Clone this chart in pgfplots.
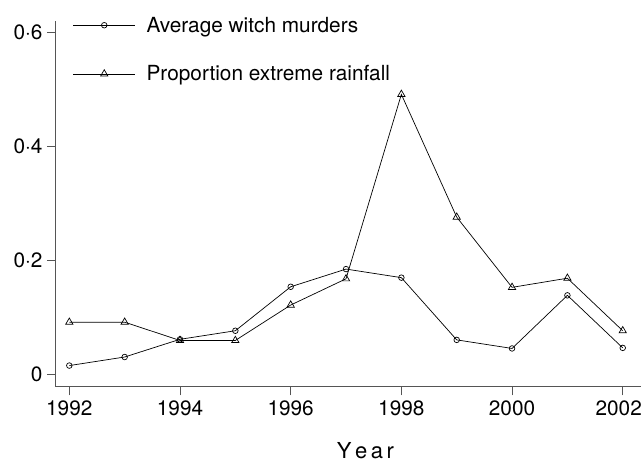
\documentclass[border=0pt]{standalone}
\usepackage{fontspec}
\setmainfont{TeX Gyre Heros}
\usepackage{pgfplots}
\pgfplotsset{compat=1.18}

\definecolor{axisgray}{HTML}{555555}

\begin{document}
\begin{tikzpicture}[font=\fontsize{20.8}{24}\selectfont]
\begin{axis}[
    name=main,
    scale only axis,
    width=585.3pt,
    height=366pt,
    xmin=1991.754, xmax=2002.33,
    ymin=-0.021, ymax=0.620,
    axis x line*=bottom,
    axis y line*=left,
    axis line style={axisgray, line width=0.8pt},
    tick style={axisgray, line width=0.8pt},
    tick align=outside,
    major tick length=8.7pt,
    xtick={1992,1994,1996,1998,2000},
    extra x ticks={2002},
    extra x tick style={xticklabel style={xshift=-4pt}},
    ytick={0,0.2,0.4,0.6},
    yticklabels={0,0·2,0·4,0·6},
    /pgf/number format/1000 sep={},
    /pgf/number format/assume math mode=true,
    xticklabel style={yshift=-2pt},
    yticklabel style={xshift=-1pt},
    xlabel={Y\kern3.5pt e\kern3.5pt a\kern3.5pt r},
    xlabel style={font=\fontsize{22}{26}\selectfont, xshift=17pt, yshift=-5pt, inner ysep=1pt},
    legend cell align=left,
    legend style={draw=none, fill=none, at={(rel axis cs:0,1)}, anchor=north west,
        xshift=14pt, yshift=8pt, row sep=28pt, column sep=5pt,
        nodes={inner xsep=6pt}},
    legend image code/.code={\draw[mark repeat=2,mark phase=2,#1] plot coordinates {(0pt,0pt) (31pt,0pt) (62pt,0pt)};},
]

% Average witch murders
\addplot[black, line width=0.7pt, mark=o, mark size=2.8pt, mark options={line width=0.7pt}] coordinates {
    (1992,0.016) (1993,0.031) (1994,0.062) (1995,0.077) (1996,0.154)
    (1997,0.185) (1998,0.170) (1999,0.061) (2000,0.046) (2001,0.139) (2002,0.047)
};
\addlegendentry{Average witch murders}

% Proportion extreme rainfall
\addplot[black, line width=0.7pt, mark=triangle, mark size=4.2pt, mark options={line width=0.7pt}] coordinates {
    (1992,0.092) (1993,0.092) (1994,0.060) (1995,0.060) (1996,0.122)
    (1997,0.168) (1998,0.491) (1999,0.276) (2000,0.153) (2001,0.169) (2002,0.077)
};
\addlegendentry{Proportion extreme rainfall}

\end{axis}
\pgfresetboundingbox
\path (main.south west) ++(-55.7pt,-77.3pt) rectangle ++(643pt,464pt);
\end{tikzpicture}
\end{document}
